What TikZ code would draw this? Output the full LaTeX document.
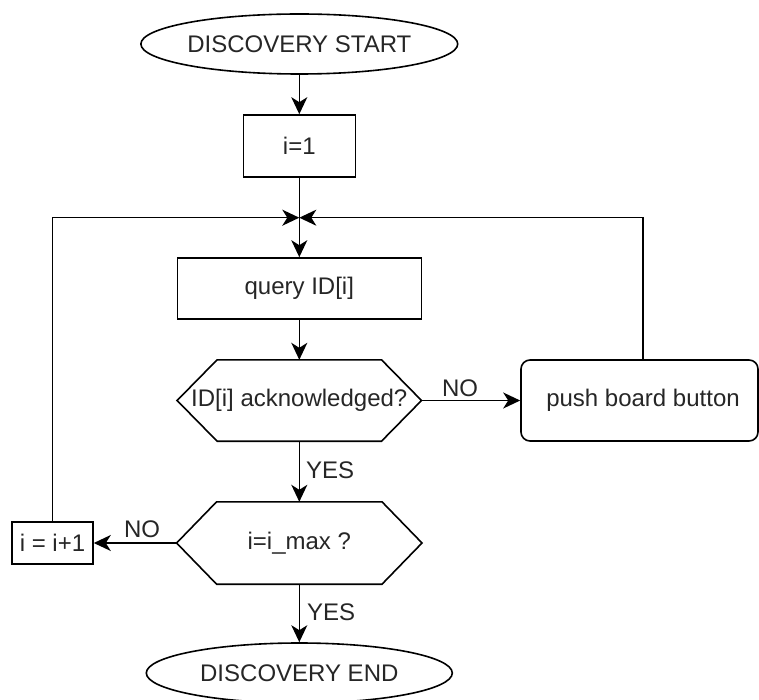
\documentclass[tikz,border=0pt]{standalone}
\usepackage{fontspec}
\setmainfont{Liberation Sans}
\usetikzlibrary{arrows.meta,calc,shapes.geometric}
\begin{document}
\begin{tikzpicture}[x=1pt,y=-1pt,
  every node/.style={font=\fontsize{24}{28}\selectfont, text=black!85},
  line/.style={line width=1.6pt, draw=black},
  arr/.style={line, -{Stealth[length=17pt,width=16pt,inset=5pt]}},
  term/.style={ellipse, line, minimum width=306pt, minimum height=60pt, inner sep=0pt},
  proc/.style={rectangle, line, inner sep=0pt},
  dec/.style={inner sep=0pt},
  lbl/.style={inner sep=0pt}
]
\useasboundingbox (0,0) rectangle (759,700);

% nodes
\node[term] (start) at (299.3,44) {DISCOVERY START};
\node[proc, minimum width=112pt, minimum height=62pt] (init) at (299.3,146) {i=1};
\node[proc, minimum width=244pt, minimum height=61pt] (query) at (299.3,288.5) {query ID[i]};
\node[dec, minimum width=244pt, minimum height=81pt] (ack) at (299.3,400.5) {ID[i] acknowledged?};
\draw[line] (ack.west) -- ([xshift=40pt]ack.north west) -- ([xshift=-40pt]ack.north east)
  -- (ack.east) -- ([xshift=-40pt]ack.south east) -- ([xshift=40pt]ack.south west) -- cycle;
\node[proc, rounded corners=9pt, minimum width=237pt, minimum height=81pt] (push) at (639.5,400.5) {\hspace*{7pt}push board button};
\node[dec, minimum width=245pt, minimum height=82pt] (max) at (299.3,543) {i=i\_max ?};
\draw[line] (max.west) -- ([xshift=40pt]max.north west) -- ([xshift=-40pt]max.north east)
  -- (max.east) -- ([xshift=-40pt]max.south east) -- ([xshift=40pt]max.south west) -- cycle;
\node[proc, minimum width=81pt, minimum height=42pt] (inc) at (52.5,543) {i = i+1};
\node[term] (end) at (299.3,673) {DISCOVERY END};

\coordinate (j) at (299.3,217.7);

% connectors
\draw[arr] (start) -- (init);
\draw[arr] (init.south) -- (query.north);
\draw[arr] (query.south) -- (ack.north);
\draw[arr] (ack.east) -- (push.west) node[lbl, pos=0.39, above=3pt] {NO};
\draw[arr] (ack.south) -- (max.north) node[lbl, pos=0.475, right=6pt] {YES};
\draw[arr] (max.west) -- (inc.east) node[lbl, pos=0.417, above=4pt] {NO};
\draw[arr] (max.south) -- (end.north) node[lbl, pos=0.49, right=7pt] {YES};
\draw[arr] (inc.north) |- (j);
\draw[arr] ([xshift=3.5pt]push.north) |- (j);
\end{tikzpicture}
\end{document}
